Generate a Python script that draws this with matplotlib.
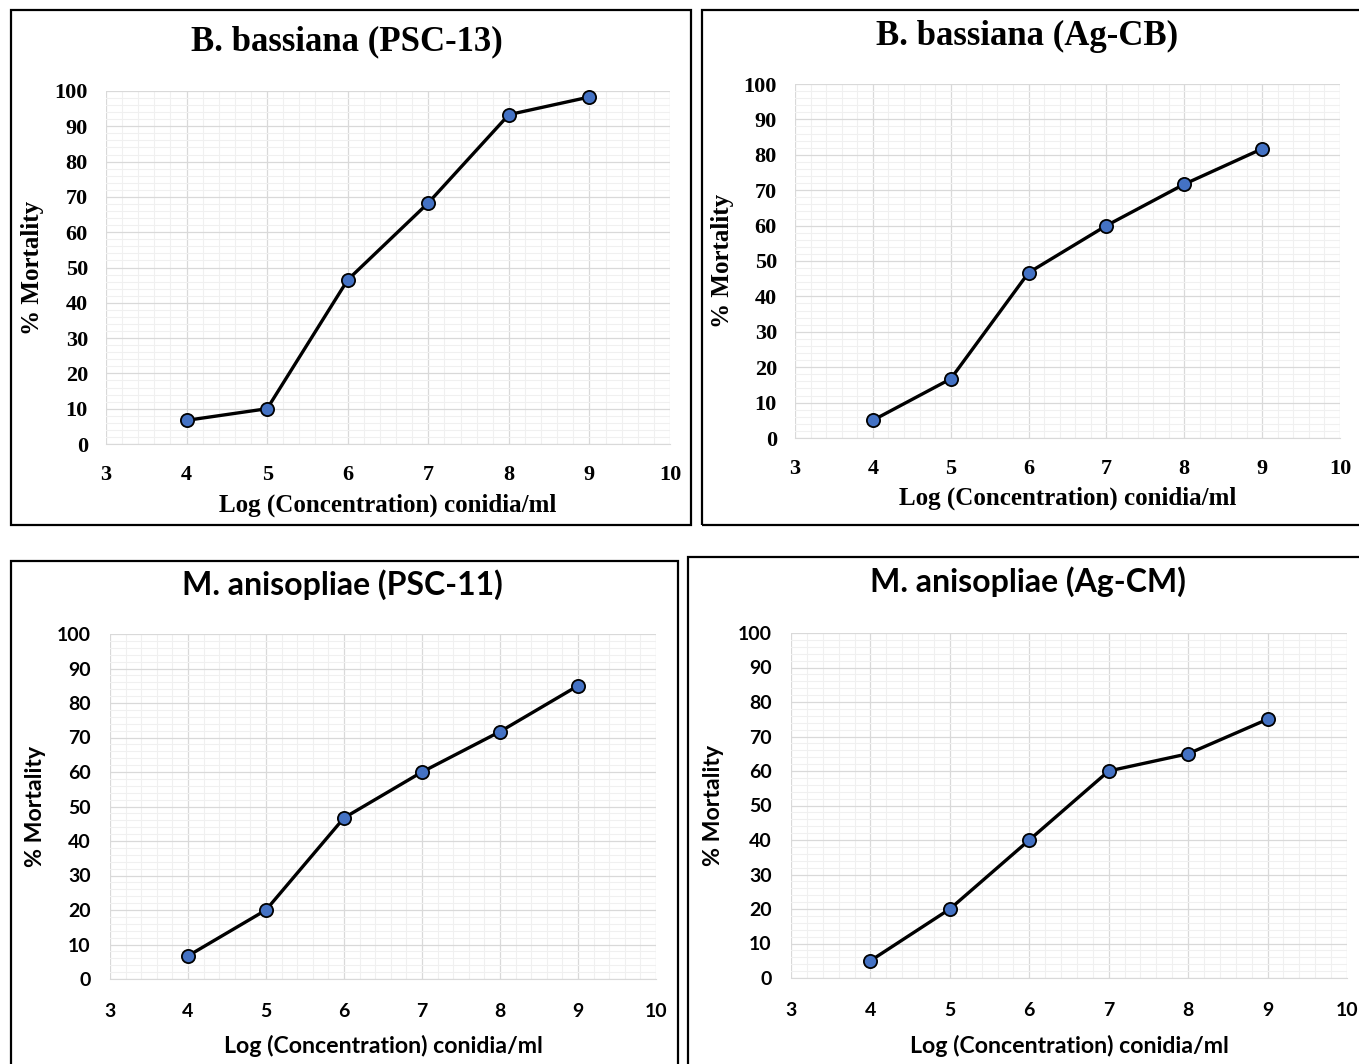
import matplotlib
matplotlib.use("Agg")
import matplotlib.pyplot as plt
from matplotlib.patches import Rectangle
from matplotlib.ticker import MultipleLocator

W, H = 1359, 1064

log_conc = [4, 5, 6, 7, 8, 9]
bb_psc13 = [6.7, 10.0, 46.5, 68.3, 93.3, 98.3]
bb_agcb = [5.0, 16.7, 46.7, 60.0, 71.7, 81.7]
ma_psc11 = [6.7, 20.0, 46.7, 60.0, 71.7, 85.0]
ma_agcm = [5.0, 20.0, 40.0, 60.0, 65.0, 75.0]

titles = ["B. bassiana (PSC-13)", "B. bassiana (Ag-CB)",
          "M. anisopliae (PSC-11)", "M. anisopliae (Ag-CM)"]
xlabel = "Log (Concentration) conidia/ml"
ylabel = "% Mortality"
x_ticks = [3, 4, 5, 6, 7, 8, 9, 10]
y_ticks = [0, 10, 20, 30, 40, 50, 60, 70, 80, 90, 100]

fig = plt.figure(figsize=(W / 100, H / 100), dpi=100)

def px_rect(x0, y0, x1, y1):
    return [x0 / W, 1 - y1 / H, (x1 - x0) / W, (y1 - y0) / H]

def frame(x0, y0, x1, y1):
    r = Rectangle((x0 / W, 1 - y1 / H), (x1 - x0) / W, (y1 - y0) / H,
                  transform=fig.transFigure, fill=False, edgecolor="black",
                  linewidth=1.6)
    fig.add_artist(r)

panels = [
    dict(frame=(11, 10, 691, 525), ax=(106, 91, 670, 444), data=bb_psc13,
         font="Liberation Serif", title_y=42, xl_y=505, yl_x=33,
         tfs=25, tkfs=16, lfs=18, xpad=15, ypad=13),
    dict(frame=(702, 10, 1365, 525), ax=(795, 84, 1340, 438), data=bb_agcb,
         font="Liberation Serif", title_y=36, xl_y=498, yl_x=722,
         tfs=25, tkfs=16, lfs=18, xpad=15, ypad=13),
    dict(frame=(11, 561, 678, 1070), ax=(110, 634, 656, 979), data=ma_psc11,
         font="Lato", title_y=585, xl_y=1046, yl_x=36,
         tfs=23, tkfs=14, lfs=16.7, xpad=17, ypad=14),
    dict(frame=(688, 557, 1365, 1070), ax=(791, 633, 1347, 978), data=ma_agcm,
         font="Lato", title_y=582, xl_y=1046, yl_x=714,
         tfs=23, tkfs=14, lfs=16.7, xpad=17, ypad=14),
]

for p, title in zip(panels, titles):
    frame(*p["frame"])
    x0, y0, x1, y1 = p["ax"]
    ax = fig.add_axes(px_rect(x0, y0, x1, y1))
    ax.plot(log_conc, p["data"], color="black", linewidth=2.4, marker="o",
            markersize=9.5, markerfacecolor="#4472C4", markeredgecolor="black",
            markeredgewidth=1.3, zorder=5, clip_on=False)
    ax.set_xlim(3, 10)
    ax.set_ylim(0, 100)
    ax.set_xticks(x_ticks)
    ax.set_yticks(y_ticks)
    ax.xaxis.set_minor_locator(MultipleLocator(0.2))
    ax.yaxis.set_minor_locator(MultipleLocator(2))
    ax.grid(which="minor", color="#F0F0F0", linewidth=0.8)
    ax.grid(which="major", color="#D9D9D9", linewidth=0.9)
    ax.set_axisbelow(True)
    for s in ["top", "right", "left"]:
        ax.spines[s].set_visible(False)
    ax.spines["bottom"].set_color("#D9D9D9")
    ax.tick_params(which="both", length=0)
    ax.tick_params(axis="x", pad=p["xpad"])
    ax.tick_params(axis="y", pad=p["ypad"])
    fp = dict(family=p["font"], weight="bold")
    for lab in ax.get_xticklabels() + ax.get_yticklabels():
        lab.set_fontfamily(p["font"])
        lab.set_fontweight("bold")
        lab.set_fontsize(p["tkfs"])
    cx = (x0 + x1) / 2
    fig.text(cx / W - 0.03, 1 - p["title_y"] / H, title, ha="center",
             va="center", fontsize=p["tfs"], **fp)
    fig.text(cx / W, 1 - p["xl_y"] / H, xlabel, ha="center",
             va="center", fontsize=p["lfs"], **fp)
    fig.text(p["yl_x"] / W, 1 - (y0 + y1) / 2 / H, ylabel, ha="center",
             va="center", rotation=90, fontsize=p["lfs"], **fp)

fig.savefig("out.png", dpi=100, facecolor="white")
